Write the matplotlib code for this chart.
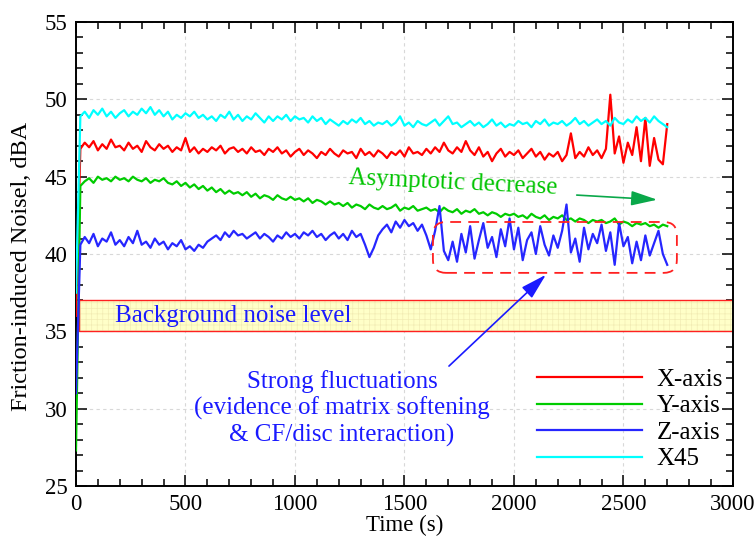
import numpy as np
import matplotlib
matplotlib.use("Agg")
import matplotlib.pyplot as plt
from matplotlib.patches import Rectangle, FancyBboxPatch
from matplotlib.ticker import MultipleLocator

plt.rcParams['font.family'] = ['Liberation Serif', 'DejaVu Serif']
plt.rcParams['hatch.linewidth'] = 0.5

# time axis, one reading every 20 s
time_s = np.arange(0, 2701, 20)

x_axis = [
    36.0, 46.8, 47.2, 46.9, 47.3, 46.7, 47.1, 46.8, 47.4, 46.9,
    47.0, 46.7, 47.2, 46.8, 47.0, 46.6, 47.3, 46.9, 46.7, 47.1,
    46.8, 47.0, 46.6, 46.9, 46.7, 47.5, 46.6, 46.9, 46.5, 46.8,
    46.6, 46.9, 46.7, 47.0, 46.5, 46.8, 46.9, 46.6, 46.8, 46.5,
    46.9, 46.6, 46.7, 46.4, 46.8, 46.6, 46.9, 46.5, 46.7, 46.3,
    46.6, 46.8, 46.4, 46.7, 46.5, 46.2, 46.6, 46.4, 46.8, 46.5,
    46.3, 46.7, 46.5, 46.6, 46.2, 46.8, 46.4, 46.6, 46.3, 46.7,
    46.5, 46.2, 46.6, 46.4, 46.7, 46.3, 46.9, 46.5, 46.6, 46.4,
    46.8, 46.5, 46.9, 46.6, 47.2, 46.7, 46.5, 46.9, 46.6, 47.3,
    46.7, 46.4, 46.9, 46.3, 46.6, 46.0, 46.5, 46.8, 46.3, 46.6,
    46.4, 46.7, 46.2, 46.5, 46.8, 46.3, 46.6, 46.1, 46.5, 46.3,
    46.6, 46.0, 46.4, 47.8, 46.2, 46.6, 46.3, 46.9, 46.4, 46.7,
    46.2, 46.8, 50.3, 46.5, 47.6, 45.9, 47.2, 46.4, 48.2, 46.0,
    48.8, 45.7, 47.5, 46.1, 45.8, 48.4,
]

y_axis = [
    27.3, 44.4, 44.7, 44.9, 44.6, 45.0, 44.8, 44.9, 44.7, 45.0,
    44.8, 44.9, 44.7, 45.0, 44.8, 44.7, 44.9, 44.6, 44.8, 44.7,
    44.9, 44.6, 44.5, 44.7, 44.4, 44.6, 44.3, 44.5, 44.2, 44.4,
    44.1, 44.3, 44.0, 44.2, 43.9, 44.1, 43.9, 44.0, 43.8, 44.0,
    43.7, 43.9, 43.6, 43.8, 43.7, 43.5, 43.8, 43.6, 43.5, 43.7,
    43.5, 43.6, 43.4, 43.6, 43.3, 43.5, 43.4, 43.2, 43.4, 43.2,
    43.3, 43.1, 43.3, 43.0, 43.2, 43.1, 42.9, 43.2, 43.0, 42.9,
    43.1, 42.9, 43.0, 43.2, 42.8, 43.0, 42.9, 43.1, 42.8, 42.9,
    43.0, 42.8, 42.9, 42.7, 43.0, 42.8, 42.7, 42.9, 42.6, 42.8,
    42.7, 42.9, 42.6, 42.7, 42.5, 42.7, 42.6, 42.4, 42.6, 42.5,
    42.6, 42.4, 42.5, 42.3, 42.6, 42.4, 42.3, 42.5, 42.2, 42.4,
    42.3, 42.5, 42.2, 42.3, 42.1, 42.3, 42.2, 42.0, 42.2, 42.1,
    42.2, 42.0, 42.1, 42.3, 41.9, 42.1, 42.0, 41.8, 42.0, 41.9,
    42.0, 41.8, 41.9, 41.7, 41.9, 41.8,
]

z_axis = [
    31.0, 40.6, 41.1, 40.7, 41.3, 40.5, 41.0, 40.8, 41.4, 40.6,
    40.9, 40.5, 41.1, 40.7, 41.5, 40.6, 40.8, 40.4, 41.0, 40.6,
    40.8, 40.3, 40.7, 40.5, 40.9, 40.3, 40.5, 40.2, 40.6, 40.4,
    40.8, 41.0, 41.2, 40.9, 41.4, 41.1, 41.5, 41.2, 41.3, 41.0,
    41.2, 41.4, 41.0, 41.3, 41.1, 40.8, 41.2, 41.0, 41.4, 41.1,
    41.3, 41.0, 41.4, 41.2, 41.5, 41.1, 41.3, 40.9, 41.2, 41.4,
    41.0, 41.3, 40.9, 41.5, 41.1, 41.3, 40.6, 39.8, 40.4, 41.2,
    41.6, 41.9, 41.4, 42.1, 41.7, 42.2, 41.8, 42.0, 41.5, 41.9,
    41.2, 40.3, 41.5, 43.1, 40.2, 39.6, 40.8, 39.5, 41.3, 40.1,
    41.8, 39.7, 40.9, 42.0, 40.4, 41.1, 39.8, 41.6, 40.5, 42.3,
    40.3, 41.7, 39.6, 40.9, 41.4, 40.0, 41.8, 40.6, 39.9, 41.2,
    40.4, 41.5, 43.2, 40.1, 41.0, 39.5, 41.7, 40.3, 41.3, 40.7,
    41.9, 40.2, 41.4, 39.3, 42.0, 40.5, 41.1, 39.4, 40.8, 39.6,
    41.2, 39.9, 40.7, 41.5, 40.0, 39.3,
]

x45 = [
    37.5, 48.9, 49.2, 48.8, 49.3, 49.0, 49.4, 48.9, 49.2, 48.8,
    49.1, 49.3, 48.9, 49.2, 49.0, 49.4, 49.1, 49.5, 49.0, 49.3,
    48.9, 49.2, 48.7, 49.0, 48.8, 49.1, 48.9, 49.2, 48.8, 49.0,
    48.7, 48.9, 48.6, 49.0, 48.8, 49.2, 48.7, 49.0, 48.6, 48.9,
    48.7, 49.1, 48.8, 48.5, 48.9, 48.6, 48.9, 48.7, 49.0, 48.6,
    48.9, 48.7, 48.8, 48.5, 48.9, 48.6, 48.8, 48.4, 48.7, 48.5,
    48.3, 48.6, 48.4, 48.7, 48.5, 48.8, 48.4, 48.6, 48.3, 48.5,
    48.4, 48.6, 48.3, 48.5, 48.9, 48.3, 48.5, 48.2, 48.6, 48.4,
    48.3, 48.5, 48.7, 48.3, 48.6, 48.9, 48.4, 48.5, 48.2, 48.4,
    48.6, 48.3, 48.5, 48.2, 48.4, 48.7, 48.3, 48.5, 48.2, 48.4,
    48.3, 48.6, 48.4, 48.5, 48.2, 48.6, 48.4, 48.7, 48.3, 48.5,
    48.4, 48.6, 48.3, 48.5, 48.8, 48.4, 48.6, 48.3, 48.5, 48.7,
    48.4, 48.6, 48.3, 48.8, 48.5, 48.4, 48.7, 48.5, 48.9, 48.6,
    48.8, 48.5, 48.9, 48.6, 48.4, 48.2,
]

labels = ['X-axis', 'Y-axis', 'Z-axis', 'X45']
colors = ['#ff0000', '#00cc00', '#2626ff', '#00ffff']
series = [x_axis, y_axis, z_axis, x45]

fig = plt.figure(figsize=(7.56, 5.37), dpi=100)
ax = fig.add_axes([0.1005, 0.095, 0.869, 0.864])

# background noise band
ax.add_patch(Rectangle((14, 35), 2986, 2, facecolor='#ffffc8',
                       edgecolor='#f2ecb4', hatch='+++', lw=0, zorder=1))
ax.add_patch(Rectangle((14, 35), 2986, 2, facecolor='none',
                       edgecolor='#ff2020', lw=1.0, zorder=2))

for y, c, lab in zip(series, colors, labels):
    ax.plot(time_s, y, color=c, lw=1.6, label=lab, zorder=3)

ax.set_xlim(0, 3000)
ax.set_ylim(25, 55)
ax.xaxis.set_major_locator(MultipleLocator(500))
ax.xaxis.set_minor_locator(MultipleLocator(100))
ax.yaxis.set_major_locator(MultipleLocator(5))
ax.yaxis.set_minor_locator(MultipleLocator(1))
ax.tick_params(which='both', direction='in', top=True, right=True,
               labelsize=16.5, width=1.1)
ax.tick_params(which='major', length=8, pad=6)
ax.tick_params(which='minor', length=5)
for s in ax.spines.values():
    s.set_linewidth(1.4)
ax.grid(True, which='major', ls=(0, (3, 3)), color='#d8d8d8', lw=0.8)
ax.set_axisbelow(True)

ax.set_xlabel('Time (s)', fontsize=16.5)
ax.set_ylabel('Friction-induced Noisel, dBA', fontsize=17.5)
ax.xaxis.set_label_coords(0.5, -0.063)
ax.yaxis.set_label_coords(-0.067, 0.474)

ax.text(180, 36, 'Background noise level', color='#1a1aff', fontsize=18,
        va='center', ha='left', zorder=4)

ax.text(1721, 44.6, 'Asymptotic decrease', color='#00c400', fontsize=18,
        rotation=-2.7, ha='center', va='center', zorder=4)
ax.annotate('', xy=(2667, 43.5), xytext=(2274, 43.82),
            arrowprops=dict(arrowstyle='-|>,head_length=1.6,head_width=0.45',
                            color='#0aa84a', lw=1.2), zorder=4)

ax.add_patch(FancyBboxPatch((1630, 38.78), 1114, 3.29,
                            boxstyle='round,pad=0,rounding_size=60',
                            mutation_aspect=0.0142, facecolor='none',
                            edgecolor='#ff2020', lw=1.3,
                            ls=(0, (6, 4)), zorder=4))

ax.text(1215, 30.0, 'Strong fluctuations\n(evidence of matrix softening\n& CF/disc interaction)',
        color='#1a1aff', fontsize=18, ha='center', va='center',
        linespacing=1.2, zorder=4)
ax.annotate('', xy=(2155, 38.78), xytext=(1694, 32.63),
            arrowprops=dict(arrowstyle='-|>,head_length=1.6,head_width=0.45',
                            color='#1a1aff', lw=1.2), zorder=4)

ax.legend(loc='lower right', bbox_to_anchor=(1.0, 0.012), frameon=False,
          fontsize=18, handlelength=4.2, labelspacing=0.16,
          handletextpad=0.6, borderaxespad=0.0)

fig.savefig('out.png', dpi=100)
